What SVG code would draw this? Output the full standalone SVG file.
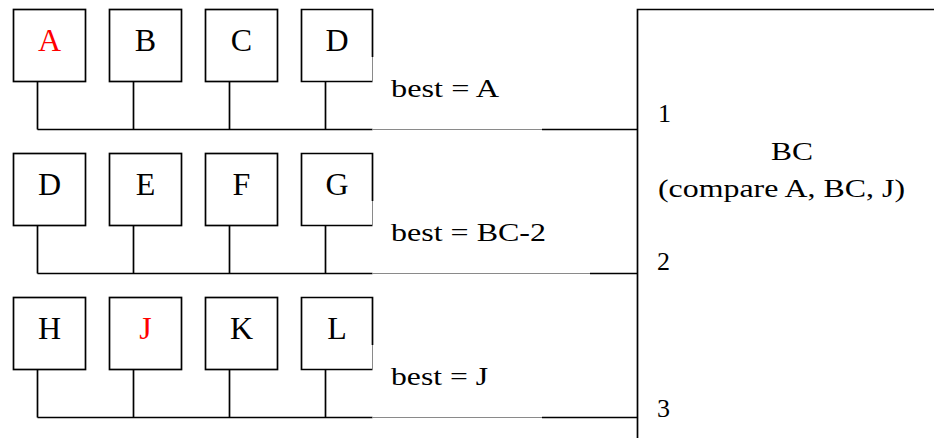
<svg xmlns="http://www.w3.org/2000/svg" width="934" height="438" viewBox="0 0 934 438">
<style>
.box{fill:#fff;stroke:#000;stroke-width:1.7}
.ln{fill:none;stroke:#000;stroke-width:1.7}
.gr{fill:none;stroke:#8a8a8a;stroke-width:1}
.bt{font-size:32px;text-anchor:middle}
.lb{font-size:26px}
.red{fill:#ff0000}
</style>
<rect width="934" height="438" fill="#fff"/>
<g id="connectors">
  <path class="ln" d="M37.5,81.5V129.5M133.5,81.5V129.5M229.5,81.5V129.5M325.5,81.5V129.5M37.5,129.5H372.5M542,129.5H637.5"/>
  <path class="gr" d="M372.5,129.5H542"/>
  <path class="ln" d="M37.5,225.5V273.5M133.5,225.5V273.5M229.5,225.5V273.5M325.5,225.5V273.5M37.5,273.5H372.5M590,273.5H637.5"/>
  <path class="gr" d="M372.5,273.5H590"/>
  <path class="ln" d="M37.5,369.5V417.5M133.5,369.5V417.5M229.5,369.5V417.5M325.5,369.5V417.5M37.5,417.5H372.5M542,417.5H637.5"/>
  <path class="gr" d="M372.5,417.5H542"/>
</g>
<g font-family="Liberation Serif, Times New Roman, serif">
<g id="node-A"><rect class="box" x="13.5" y="9.5" width="72" height="72"/><text class="bt red" x="49.5" y="50.5">A</text></g>
<g id="node-B"><rect class="box" x="109.5" y="9.5" width="72" height="72"/><text class="bt" x="145.5" y="50.5">B</text></g>
<g id="node-C"><rect class="box" x="205.5" y="9.5" width="72" height="72"/><text class="bt" x="241.5" y="50.5">C</text></g>
<g id="node-D1"><path class="ln" d="M372.5,57V9.5H301.5V81.5H372.5"/><path class="gr" d="M372.5,57V81.5"/><text class="bt" x="337" y="50.5">D</text></g>
<g id="node-D2"><rect class="box" x="13.5" y="153.5" width="72" height="72"/><text class="bt" x="49.5" y="194.5">D</text></g>
<g id="node-E"><rect class="box" x="109.5" y="153.5" width="72" height="72"/><text class="bt" x="145.5" y="194.5">E</text></g>
<g id="node-F"><rect class="box" x="205.5" y="153.5" width="72" height="72"/><text class="bt" x="241.5" y="194.5">F</text></g>
<g id="node-G"><path class="ln" d="M372.5,201V153.5H301.5V225.5H372.5"/><path class="gr" d="M372.5,201V225.5"/><text class="bt" x="337" y="194.5">G</text></g>
<g id="node-H"><rect class="box" x="13.5" y="297.5" width="72" height="72"/><text class="bt" x="49.5" y="338.5">H</text></g>
<g id="node-J"><rect class="box" x="109.5" y="297.5" width="72" height="72"/><text class="bt red" x="145.5" y="338.5">J</text></g>
<g id="node-K"><rect class="box" x="205.5" y="297.5" width="72" height="72"/><text class="bt" x="241.5" y="338.5">K</text></g>
<g id="node-L"><path class="ln" d="M372.5,345V297.5H301.5V369.5H372.5"/><path class="gr" d="M372.5,345V369.5"/><text class="bt" x="337" y="338.5">L</text></g>
<g id="label-1"><text class="lb" x="391" y="96.5" textLength="108" lengthAdjust="spacingAndGlyphs">best = A</text></g>
<g id="label-2"><text class="lb" x="391" y="240.5" textLength="155" lengthAdjust="spacingAndGlyphs">best = BC-2</text></g>
<g id="label-3"><text class="lb" x="391" y="384.5" textLength="97" lengthAdjust="spacingAndGlyphs">best = J</text></g>
<g id="node-BC">
  <path class="ln" d="M934,9.5H637.5V438"/>
  <text class="lb" x="658" y="121.5">1</text>
  <text class="lb" x="771" y="159.5" textLength="42" lengthAdjust="spacingAndGlyphs">BC</text>
  <text class="lb" x="658" y="196.5" textLength="247" lengthAdjust="spacingAndGlyphs">(compare A, BC, J)</text>
  <text class="lb" x="657" y="269.5">2</text>
  <text class="lb" x="657" y="416.5">3</text>
</g>
</g>
</svg>
